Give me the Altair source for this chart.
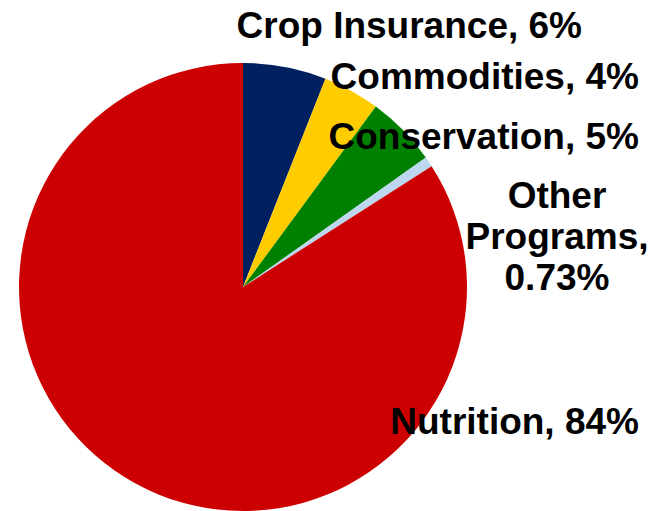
import altair as alt
import pandas as pd

categories = ["Crop Insurance", "Commodities", "Conservation", "Other Programs", "Nutrition"]
shares = [6.0, 4.1, 5.1, 0.73, 84.07]
share_labels = ["6%", "4%", "5%", "0.73%", "84%"]
colors = ["#002060", "#FFCC00", "#008000", "#BDD7EE", "#CC0000"]

df = pd.DataFrame({
    "category": categories,
    "share": shares,
    "order": list(range(len(categories))),
})
df["label"] = [
    f"{c}, {l}" if c != "Other Programs" else "Other\nPrograms,\n" + l
    for c, l in zip(categories, share_labels)
]

W, H = 645, 503
CX, CY, R = 235, 279, 224

pie = alt.Chart(df).mark_arc(radius=R, stroke=None).encode(
    theta=alt.Theta("share:Q", stack=True),
    order=alt.Order("order:Q"),
    color=alt.Color("category:N", scale=alt.Scale(domain=categories, range=colors), legend=None),
    x=alt.value(CX),
    y=alt.value(CY),
)

# label placement (pixel layout of annotations)
label_layout = {
    "Crop Insurance": dict(x=574, y=30, align="right"),
    "Commodities": dict(x=631, y=81, align="right"),
    "Conservation": dict(x=631, y=141, align="right"),
    "Other Programs": dict(x=549, y=200, align="center"),
    "Nutrition": dict(x=631, y=426, align="right"),
}

layers = [pie]
for cat in categories:
    p = label_layout[cat]
    layers.append(
        alt.Chart(df).transform_filter(alt.datum.category == cat).mark_text(
            font="Liberation Sans", fontWeight="bold", fontSize=37,
            align=p["align"], baseline="alphabetic", lineBreak="\n",
            lineHeight=41, color="black",
        ).encode(text="label:N", x=alt.value(p["x"]), y=alt.value(p["y"]))
    )

chart = alt.layer(*layers).properties(
    width=W, height=H, padding=0, autosize=alt.AutoSizeParams(type="none"),
).configure_view(stroke=None)

chart.save("out.html", embed_options={"renderer": "svg", "actions": False})
